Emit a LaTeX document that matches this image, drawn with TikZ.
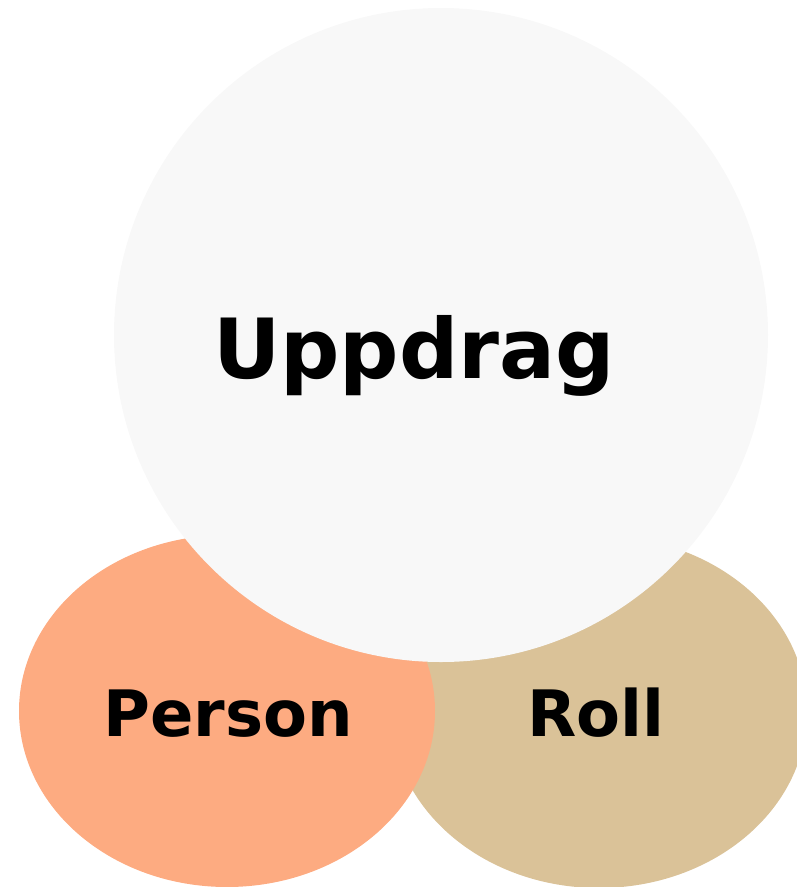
\documentclass[tikz,border=0pt]{standalone}
\usepackage{fontspec}
\setmainfont{DejaVu Sans}
\usepackage{xcolor}
\usepackage{tikz}
\usetikzlibrary{shapes.geometric}

\definecolor{uppdragfill}{HTML}{F8F8F8}
\definecolor{personfill}{HTML}{FDAB81}
\definecolor{rollfill}{HTML}{DAC298}

\begin{document}
\begin{tikzpicture}[x=1pt, y=-1pt,
    blob/.style={ellipse, inner sep=0pt, minimum width=416pt, minimum height=352pt},
    big/.style={circle, inner sep=0pt, minimum size=654pt, fill=uppdragfill},
    tag/.style={anchor=base, font=\bfseries\fontsize{64}{64}\selectfont}]

        \useasboundingbox (0,0) rectangle (797,887);

        % mängderna
        \node (roll) [blob, fill=rollfill] at (599,712) {};
        \node (person) [blob, fill=personfill] at (227,711) {};
        \node (uppdrag) [big] at (441,335) {};

        % texterna
        \node (uppdragtext) [tag, font=\bfseries\fontsize{83}{83}\selectfont] at (414,378) {Uppdrag};
        \node (persontext) [tag] at (228,736) {Person};
        \node (rolltext) [tag] at (596,736) {Roll};

    \end{tikzpicture}
\end{document}
